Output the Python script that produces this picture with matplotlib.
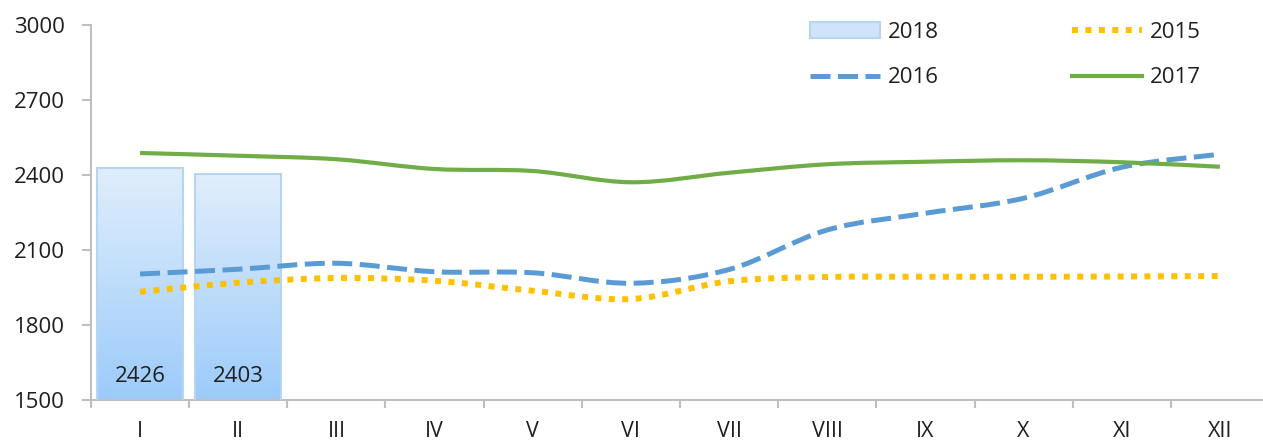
#!/usr/bin/env python3
"""Monthly values 2015-2018: smoothed lines plus gradient bars for 2018."""

import numpy as np
import matplotlib
matplotlib.use("Agg")
import matplotlib.pyplot as plt
from matplotlib.path import Path
from matplotlib.patches import PathPatch, Rectangle
from matplotlib.lines import Line2D
from matplotlib.colors import to_rgb

plt.rcParams["font.family"] = ["Open Sans", "DejaVu Sans"]

months = ["I", "II", "III", "IV", "V", "VI", "VII", "VIII", "IX", "X", "XI", "XII"]
vals_2018 = [2426, 2403]
vals_2015 = [1933, 1969, 1988, 1977, 1937, 1904, 1975, 1992, 1993, 1993, 1994, 1996]
vals_2016 = [2004, 2023, 2047, 2013, 2009, 1967, 2022, 2180, 2247, 2307, 2431, 2483]
vals_2017 = [2488, 2477, 2463, 2424, 2416, 2371, 2409, 2443, 2453, 2459, 2451, 2433]

GREEN = "#70ad47"
BLUE = "#5b9bd5"
YELLOW = "#ffc000"
AXIS = "#bfbfbf"
TEXT = "#1f1f1f"
BAR_TOP = "#e0eefc"
BAR_BOT = "#9ccbfa"
BAR_EDGE = "#b6d5f0"


def smooth_path(ys):
    """Excel-like smoothed line: Catmull-Rom as cubic Bezier segments."""
    pts = np.column_stack([np.arange(len(ys)), ys]).astype(float)
    n = len(pts)
    verts = [pts[0]]
    codes = [Path.MOVETO]
    for i in range(n - 1):
        p0 = pts[max(i - 1, 0)]
        p1 = pts[i]
        p2 = pts[i + 1]
        p3 = pts[min(i + 2, n - 1)]
        verts += [p1 + (p2 - p0) / 6, p2 - (p3 - p1) / 6, p2]
        codes += [Path.CURVE4] * 3
    return Path(verts, codes)


fig = plt.figure(figsize=(12.63, 4.44), dpi=100)
ax = fig.add_axes([91 / 1263, 44 / 444, 1178 / 1263, 375 / 444])

# Bars with vertical gradient
x = np.arange(len(months))
bars = ax.bar(x[:len(vals_2018)], vals_2018, width=0.875, bottom=0,
              facecolor="none", edgecolor=BAR_EDGE, linewidth=1.5, zorder=3)
grad = np.linspace(0, 1, 256)[:, None, None]
top, bot = np.array(to_rgb(BAR_TOP)), np.array(to_rgb(BAR_BOT))
img = top * (1 - grad) + bot * grad
for b in bars:
    x0, w, h = b.get_x(), b.get_width(), b.get_height()
    im = ax.imshow(img, extent=[x0, x0 + w, 1500, h], aspect="auto",
                   origin="upper", zorder=2)
    im.set_clip_path(b)

for i, v in enumerate(vals_2018):
    ax.text(x[i], 1596, f"{v}", ha="center", va="center", fontsize=16,
            color=TEXT, zorder=4)

# Smoothed lines
ax.add_patch(PathPatch(smooth_path(vals_2015), fill=False, edgecolor=YELLOW,
                       linewidth=4.3, linestyle=(0, (1, 1.25)),
                       capstyle="butt", zorder=5))
ax.add_patch(PathPatch(smooth_path(vals_2016), fill=False, edgecolor=BLUE,
                       linewidth=3.6, linestyle=(0, (4, 1.5)),
                       capstyle="butt", zorder=6))
ax.add_patch(PathPatch(smooth_path(vals_2017), fill=False, edgecolor=GREEN,
                       linewidth=3.0, zorder=7))

ax.set_xlim(-0.5, len(months) - 0.5)
ax.set_ylim(1500, 3000)
ax.set_yticks(np.arange(1500, 3001, 300))
ax.set_xticks(x)
ax.set_xticklabels(months)
ax.set_xticks(np.arange(-0.5, len(months)), minor=True)

for s in ["top", "right"]:
    ax.spines[s].set_visible(False)
for s in ["left", "bottom"]:
    ax.spines[s].set_color(AXIS)
    ax.spines[s].set_linewidth(1.5)

ax.tick_params(axis="y", length=6.5, width=1.5, color=AXIS, labelsize=16,
               labelcolor=TEXT, pad=12)
ax.tick_params(axis="x", which="major", length=0, labelsize=15.5,
               labelcolor=TEXT, pad=15)
ax.tick_params(axis="x", which="minor", length=6, width=1.5, color=AXIS)

# Legend
handles = [
    Rectangle((0, 0), 1, 1, facecolor="#cfe4fa", edgecolor=BAR_EDGE, linewidth=1.5),
    Line2D([], [], color=BLUE, linewidth=3.6, linestyle=(0, (4, 1.5)),
           dash_capstyle="butt"),
    Line2D([], [], color=YELLOW, linewidth=4.3, linestyle=(0, (1, 1.25)),
           dash_capstyle="butt"),
    Line2D([], [], color=GREEN, linewidth=3.0),
]
labels = ["2018", "2016", "2015", "2017"]
fig.legend(handles, labels, ncol=2, loc="upper left",
           bbox_to_anchor=(810 / 1263, 1 - 22 / 444), frameon=False,
           fontsize=16, handlelength=3.15, handletextpad=0.36,
           columnspacing=6.0, labelspacing=1.1, borderpad=0,
           borderaxespad=0, labelcolor=TEXT)

fig.savefig("out.png", dpi=100, facecolor="white")
